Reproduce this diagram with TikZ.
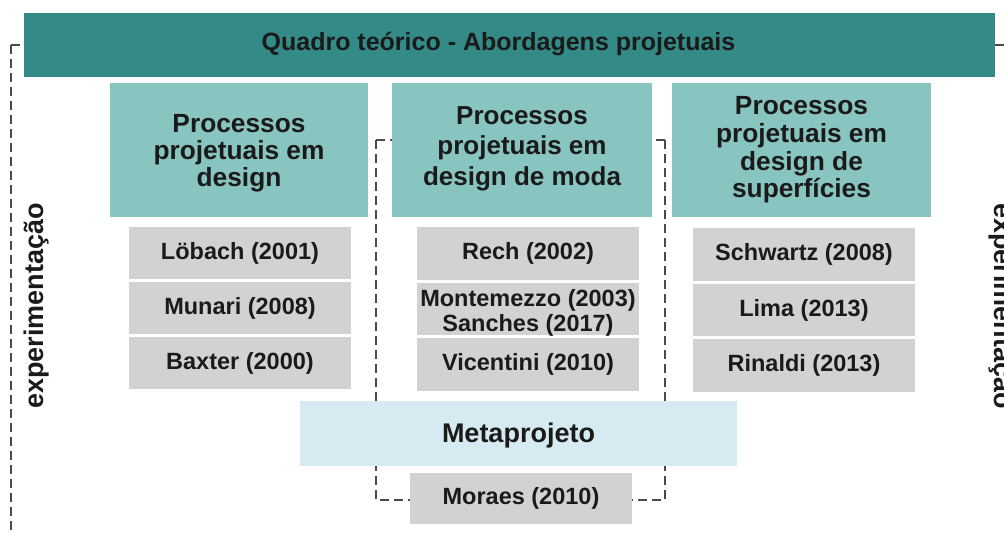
\documentclass[tikz,border=0pt]{standalone}
\usepackage{fontspec}
\setmainfont{Liberation Sans}
\definecolor{cTop}{HTML}{338A86}
\definecolor{cHead}{HTML}{88C4C0}
\definecolor{cGray}{HTML}{D3D2D3}
\definecolor{cMeta}{HTML}{D6EBF1}
\definecolor{cText}{HTML}{1A1A1A}
\definecolor{cDash}{HTML}{4A4A4A}
\pgfdeclarelayer{bg}
\pgfsetlayers{bg,main}
\begin{document}
\begin{tikzpicture}[x=1pt,y=-1pt,
  box/.style={rectangle, inner sep=0pt, outer sep=0pt, draw=none},
  topbar/.style={box, fill=cTop, minimum width=971pt, minimum height=64pt},
  headbox/.style={box, fill=cHead, minimum width=259pt, minimum height=134pt},
  refbox/.style={box, fill=cGray, minimum width=222pt, minimum height=52pt, text=cText,
    font=\bfseries\fontsize{23.5pt}{25pt}\selectfont, align=center},
  metabox/.style={box, fill=cMeta, minimum width=437pt, minimum height=65pt},
  plaintext/.style={inner sep=0pt, outer sep=0pt, text=cText, align=center},
  dashline/.style={draw=cDash, line width=1.1pt, dash pattern=on 9pt off 5pt},
  sidetext/.style={inner sep=0pt, text=cText, font=\bfseries\fontsize{27pt}{30pt}\selectfont, anchor=base}
]
\clip (0,0) rectangle (1004,533);
\begin{pgfonlayer}{bg}
\fill[white] (0,0) rectangle (1004,533);
\end{pgfonlayer}

% top bar
\node[topbar] (top) at (509.5,45) {};
\node[plaintext, font=\bfseries\fontsize{25pt}{28pt}\selectfont] (toptext) at (498.5,44)
  {Quadro teórico - Abordagens projetuais};

% headers
\node[headbox, minimum width=258pt] (h1) at (239,150) {};
\node[headbox, minimum width=260pt] (h2) at (522,150) {};
\node[headbox] (h3) at (801.5,150) {};
\node[plaintext, font=\bfseries\fontsize{26.3pt}{27pt}\selectfont] (t1) at (239,153.3)
  {Processos\\projetuais em\\design};
\node[plaintext, font=\bfseries\fontsize{26pt}{30.5pt}\selectfont] (t2) at (522,148.8)
  {Processos\\projetuais em\\design de moda};
\node[plaintext, font=\bfseries\fontsize{26.3pt}{27.7pt}\selectfont] (t3) at (801.5,149.9)
  {Processos\\projetuais em\\design de\\superfícies};

% reference boxes column 1
\node[refbox] (a1) at (240,253) {Löbach (2001)};
\node[refbox] (a2) at (240,308) {Munari (2008)};
\node[refbox] (a3) at (240,363) {Baxter (2000)};
% column 2
\node[refbox, minimum height=53pt] (b1) at (528,253.5) {Rech (2002)};
\node[refbox] (b2) at (528,309) {};
\node[plaintext, font=\bfseries\fontsize{23.5pt}{25pt}\selectfont] (b2t) at (528,313)
  {Montemezzo (2003)\\Sanches (2017)};
\node[refbox, minimum height=53pt] (b3) at (528,364.5) {Vicentini (2010)};
% column 3
\node[refbox, minimum height=53pt] (c1) at (804,254.5) {Schwartz (2008)};
\node[refbox] (c2) at (804,310) {Lima (2013)};
\node[refbox, minimum height=53pt] (c3) at (804,365.5) {Rinaldi (2013)};

% metaprojeto
\node[metabox] (meta) at (518.5,433.5) {};
\node[plaintext, font=\bfseries\fontsize{27pt}{30pt}\selectfont] (metat) at (518.5,436)
  {Metaprojeto};
\node[refbox, minimum height=51pt] (moraes) at (521,498.5) {Moraes (2010)};

% side texts
\node[sidetext, rotate=90] (expL) at (43,306) {experimentação};
\node[sidetext, rotate=-90] (expR) at (994,306) {experimentação};

% dashed brackets (behind boxes)
\coordinate (Lc) at (11,45);
\coordinate (Rc) at (1008,45);
\coordinate (mTL) at (376,140);
\coordinate (mBL) at (376,500);
\coordinate (mTR) at (665,140);
\coordinate (mBR) at (665,500);
\begin{pgfonlayer}{bg}
\draw[dashline] (Lc) -- (top.west);
\draw[dashline] (Lc) -- (11,545);
\draw[dashline] (top.east) -- (Rc) -- (1008,545);
\draw[dashline] (mTL) -- (h2.west |- mTL);
\draw[dashline] (mTL) -- (mBL) -- (moraes.west |- mBL);
\draw[dashline] (mTR) -- (h2.east |- mTR);
\draw[dashline] (mTR) -- (mBR) -- (moraes.east |- mBR);
\end{pgfonlayer}
\end{tikzpicture}
\end{document}
